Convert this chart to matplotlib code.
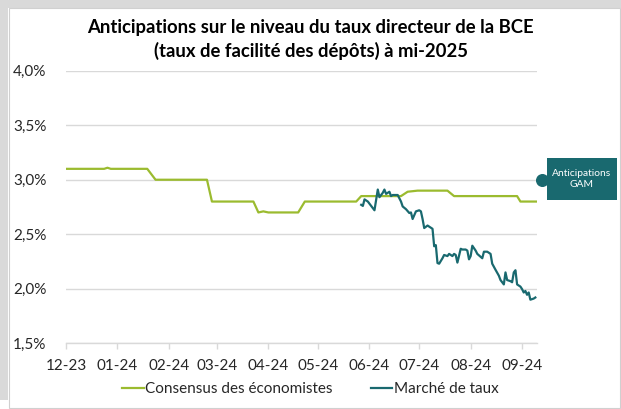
import pandas as pd
import matplotlib
matplotlib.use('Agg')
import matplotlib.pyplot as plt
import matplotlib.dates as mdates
from matplotlib.patches import Rectangle
from matplotlib.ticker import FuncFormatter

# Consensus des économistes (points de changement)
consensus_dates = ['2023-12-01', '2023-12-24', '2023-12-26', '2023-12-28', '2024-01-19', '2024-01-24',
                   '2024-02-24', '2024-02-27', '2024-03-23', '2024-03-26', '2024-03-29', '2024-04-01',
                   '2024-04-19', '2024-04-23', '2024-05-24', '2024-05-27', '2024-06-20', '2024-06-24',
                   '2024-06-30', '2024-07-18', '2024-07-22', '2024-08-29', '2024-08-31', '2024-09-10']
consensus_vals = [3.10, 3.10, 3.11, 3.10, 3.10, 3.00,
                  3.00, 2.80, 2.80, 2.70, 2.71, 2.70,
                  2.70, 2.80, 2.80, 2.85, 2.85, 2.89,
                  2.90, 2.90, 2.85, 2.85, 2.80, 2.80]

# Marché de taux
marche_dates = ['2024-05-27', '2024-05-28', '2024-05-29', '2024-05-31', '2024-06-02', '2024-06-04',
                '2024-06-06', '2024-06-07', '2024-06-09', '2024-06-10', '2024-06-11', '2024-06-13',
                '2024-06-14', '2024-06-15', '2024-06-17', '2024-06-18', '2024-06-20', '2024-06-21',
                '2024-06-23', '2024-06-25', '2024-06-26', '2024-06-27', '2024-06-29', '2024-07-01',
                '2024-07-02', '2024-07-03', '2024-07-04', '2024-07-06', '2024-07-08', '2024-07-09',
                '2024-07-10', '2024-07-11', '2024-07-12', '2024-07-13', '2024-07-15', '2024-07-16',
                '2024-07-18', '2024-07-19', '2024-07-21', '2024-07-22', '2024-07-23', '2024-07-24',
                '2024-07-26', '2024-07-27', '2024-07-29', '2024-07-30', '2024-07-31', '2024-08-01',
                '2024-08-02', '2024-08-04', '2024-08-05', '2024-08-08', '2024-08-09', '2024-08-11',
                '2024-08-13', '2024-08-14', '2024-08-16', '2024-08-18', '2024-08-19', '2024-08-21',
                '2024-08-22', '2024-08-23', '2024-08-25', '2024-08-26', '2024-08-27', '2024-08-28',
                '2024-08-29', '2024-08-31', '2024-09-01', '2024-09-02', '2024-09-03', '2024-09-04',
                '2024-09-05', '2024-09-06', '2024-09-08', '2024-09-09']
marche_vals = [2.77, 2.76, 2.82, 2.80, 2.76, 2.72,
               2.91, 2.84, 2.88, 2.91, 2.87, 2.89,
               2.85, 2.86, 2.86, 2.86, 2.80, 2.755,
               2.73, 2.695, 2.70, 2.64, 2.71, 2.72,
               2.71, 2.64, 2.557, 2.58, 2.56, 2.55,
               2.39, 2.40, 2.236, 2.23, 2.28, 2.31,
               2.30, 2.32, 2.30, 2.32, 2.31, 2.24,
               2.367, 2.36, 2.36, 2.35, 2.27, 2.30,
               2.395, 2.35, 2.32, 2.28, 2.34, 2.34,
               2.32, 2.23, 2.174, 2.12, 2.08, 2.04,
               2.15, 2.08, 2.07, 2.06, 2.15, 2.17,
               2.04, 2.02, 1.997, 1.966, 1.98, 1.945,
               1.966, 1.90, 1.91, 1.92]

gam_date = '2024-09-13'
gam_val = 3.0

month_ticks = ['2023-12-01', '2024-01-01', '2024-02-01', '2024-03-01', '2024-04-01',
               '2024-05-01', '2024-06-01', '2024-07-01', '2024-08-01', '2024-09-01']
y_ticks = [1.5, 2.0, 2.5, 3.0, 3.5, 4.0]

green = '#9BBB2F'
teal = '#19696F'
grid_col = '#D9D9D9'
text_col = '#262626'

plt.rcParams['font.family'] = ['Lato', 'DejaVu Sans']

fig = plt.figure(figsize=(6.21, 4.09), dpi=100)
W, H = 621, 409

# cadre gris (ombre) et bordure
fig.patches.append(Rectangle((0, 1 - 400 / H), 8 / W, 400 / H, transform=fig.transFigure,
                             facecolor='#D9D9D9', edgecolor='none', zorder=-3))
fig.patches.append(Rectangle((0, 1 - 8 / H), 1, 8 / H, transform=fig.transFigure,
                             facecolor='#D9D9D9', edgecolor='none', zorder=-3))
fig.patches.append(Rectangle((8.5 / W, 1 - 408 / H), 611.5 / W, 400 / H, transform=fig.transFigure,
                             facecolor='white', edgecolor='#D0D0D0', linewidth=0.8, zorder=-2))

ax = fig.add_axes([66 / W, 1 - 343.3 / H, (537 - 66) / W, (343.3 - 70.7) / H])
ax.set_zorder(1)
ax.set_facecolor('none')

ax.plot(pd.to_datetime(consensus_dates), consensus_vals, color=green, linewidth=1.6,
        label='Consensus des économistes', zorder=3)
ax.plot(pd.to_datetime(marche_dates), marche_vals, color=teal, linewidth=1.6,
        label='Marché de taux', zorder=4)
ax.scatter([pd.Timestamp(gam_date)], [gam_val], s=70, color=teal, clip_on=False, zorder=5)

ax.set_xlim(pd.Timestamp('2023-12-01'), pd.Timestamp('2024-09-10'))
ax.set_ylim(1.5, 4.0)
ax.set_yticks(y_ticks)
ax.yaxis.set_major_formatter(FuncFormatter(lambda v, p: f'{v:.1f}%'.replace('.', ',')))
ax.set_xticks(pd.to_datetime(month_ticks))
ax.xaxis.set_major_formatter(mdates.DateFormatter('%m-%y'))

ax.grid(axis='y', color=grid_col, linewidth=1.0, zorder=0)
for s in ['top', 'right', 'left']:
    ax.spines[s].set_visible(False)
ax.spines['bottom'].set_color(grid_col)
ax.spines['bottom'].set_linewidth(1.0)
ax.tick_params(axis='x', colors=grid_col, length=4, width=1.0, labelcolor=text_col,
               labelsize=11, pad=7)
ax.tick_params(axis='y', length=0, labelcolor=text_col, labelsize=11, pad=14)

fig.text(0.5, 1 - 28 / H, 'Anticipations sur le niveau du taux directeur de la BCE',
         ha='center', va='center', fontsize=13.3, fontweight='bold', color='black')
fig.text(0.5, 1 - 51 / H, '(taux de facilité des dépôts) à mi-2025',
         ha='center', va='center', fontsize=13.3, fontweight='bold', color='black')

# encadré "Anticipations GAM"
fig.patches.append(Rectangle((547 / W, 1 - 200 / H), 70 / W, 42 / H, transform=fig.transFigure,
                             facecolor=teal, edgecolor='none', zorder=2))
fig.text(582 / W, 1 - 179 / H, 'Anticipations\nGAM', ha='center', va='center',
         fontsize=7.4, color='white', linespacing=1.25, zorder=3)

fig.legend(loc='center', bbox_to_anchor=(0.5, 1 - 389 / H), ncol=2, frameon=False,
           fontsize=11, handlelength=1.4, handletextpad=0.1, columnspacing=2.5,
           labelcolor=text_col)

fig.savefig('out.png', dpi=100)
